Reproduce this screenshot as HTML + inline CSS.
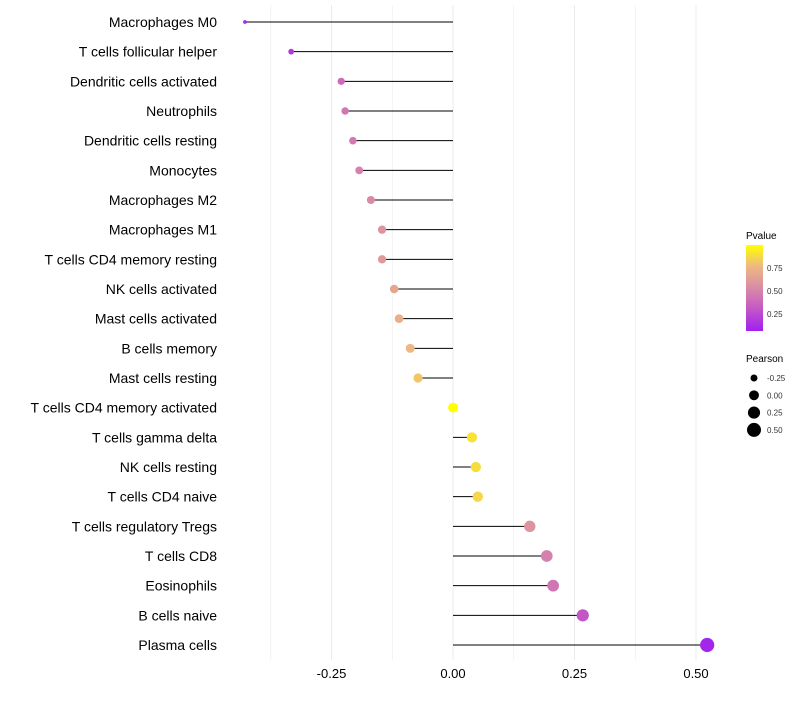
<!DOCTYPE html>
<html><head><meta charset="utf-8"><style>
body{margin:0;background:#fff;font-family:"Liberation Sans",sans-serif}
svg text{font-family:"Liberation Sans",sans-serif}
</style></head><body>
<svg id="chart" width="800" height="700">
<defs><linearGradient id="pg" x1="0" y1="1" x2="0" y2="0">
<stop offset="0" stop-color="#A020F0"/><stop offset="0.27" stop-color="#C55AC4"/><stop offset="0.5" stop-color="#D98BA6"/><stop offset="0.75" stop-color="#EDB882"/><stop offset="1" stop-color="#FFFF00"/></linearGradient></defs>
<g id="grid"></g><g id="marks"></g><g id="ylabels"></g><g id="xlabels"></g>
<g>
<text x="746" y="239" font-size="10" fill="#000">Pvalue</text>
<rect x="746" y="245" width="17" height="86" fill="url(#pg)"/>
<text x="767" y="271" font-size="8" fill="#333">0.75</text>
<text x="767" y="294" font-size="8" fill="#333">0.50</text>
<text x="767" y="317" font-size="8" fill="#333">0.25</text>
</g>
<g id="sizelegend">
<text x="746" y="362" font-size="10" fill="#000">Pearson</text></g>
</svg>
<script>
const categories=["Macrophages M0","T cells follicular helper","Dendritic cells activated","Neutrophils","Dendritic cells resting","Monocytes","Macrophages M2","Macrophages M1","T cells CD4 memory resting","NK cells activated","Mast cells activated","B cells memory","Mast cells resting","T cells CD4 memory activated","T cells gamma delta","NK cells resting","T cells CD4 naive","T cells regulatory  Tregs ","T cells CD8","Eosinophils","B cells naive","Plasma cells"];
const pearson=[-0.428,-0.333,-0.230,-0.222,-0.206,-0.193,-0.169,-0.146,-0.146,-0.121,-0.111,-0.088,-0.072,0.0,0.039,0.047,0.051,0.158,0.193,0.206,0.267,0.523];
const pvalue=[0.05,0.12,0.35,0.4,0.42,0.45,0.5,0.55,0.57,0.65,0.7,0.75,0.8,1.0,0.9,0.88,0.86,0.55,0.45,0.4,0.25,0.03];
const xTicks=[-0.25,0,0.25,0.5];
const xTickLabels=["-0.25","0.00","0.25","0.50"];
const sizeLegend=[-0.25,0,0.25,0.5];
const sizeLegendLabels=["-0.25","0.00","0.25","0.50"];
const NS="http://www.w3.org/2000/svg";
const X=v=>453+v*486;
const Y=i=>22+i*29.667;
const R=p=>Math.sqrt(Math.max(2,24.5+49*p));
const stops=[[0,[160,32,240]],[0.27,[197,90,196]],[0.5,[217,139,166]],[0.75,[237,184,130]],[1,[255,255,0]]];
function col(p){p=Math.max(0,Math.min(1,p));for(let k=1;k<stops.length;k++){if(p<=stops[k][0]){const a=stops[k-1],b=stops[k],t=(p-a[0])/(b[0]-a[0]);return "rgb("+a[1].map((c,j)=>Math.round(c+(b[1][j]-c)*t)).join(",")+")";}}return "rgb(255,255,0)";}
function mk(tag,at,parent){const e=document.createElementNS(NS,tag);for(const k in at)e.setAttribute(k,at[k]);parent.appendChild(e);return e;}
const grid=document.getElementById('grid'),marks=document.getElementById('marks'),yl=document.getElementById('ylabels'),xl=document.getElementById('xlabels');
[-0.375,-0.25,-0.125,0,0.125,0.25,0.375,0.5].forEach(v=>{const l=mk('line',{x1:X(v),x2:X(v),y1:5,y2:660,stroke:'#ebebeb','stroke-width':v*8%2===0?1:0.6},grid);

});
xTicks.forEach((v,i)=>{const t=mk('text',{x:X(v),y:678,'font-size':13,'text-anchor':'middle',fill:'#000'},xl);t.textContent=xTickLabels[i];

});
categories.forEach((c,i)=>{const t=mk('text',{x:217,y:Y(i)+5,'font-size':14,'text-anchor':'end',fill:'#000'},yl);t.textContent=c;


const s=mk('line',{x1:X(0),x2:X(pearson[i]),y1:Y(i),y2:Y(i),stroke:'#000','stroke-width':1},marks);


const d=mk('circle',{cx:X(pearson[i]),cy:Y(i),r:R(pearson[i]),fill:col(pvalue[i])},marks);

});
const sl=document.getElementById('sizelegend');
sizeLegend.forEach((v,i)=>{const y=378+i*17.3;const c=mk('circle',{cx:754,cy:y,r:R(v),fill:'#000'},sl);


const t=mk('text',{x:767,y:y+3,'font-size':8,fill:'#333'},sl);t.textContent=sizeLegendLabels[i];

});
</script>
</body></html>
